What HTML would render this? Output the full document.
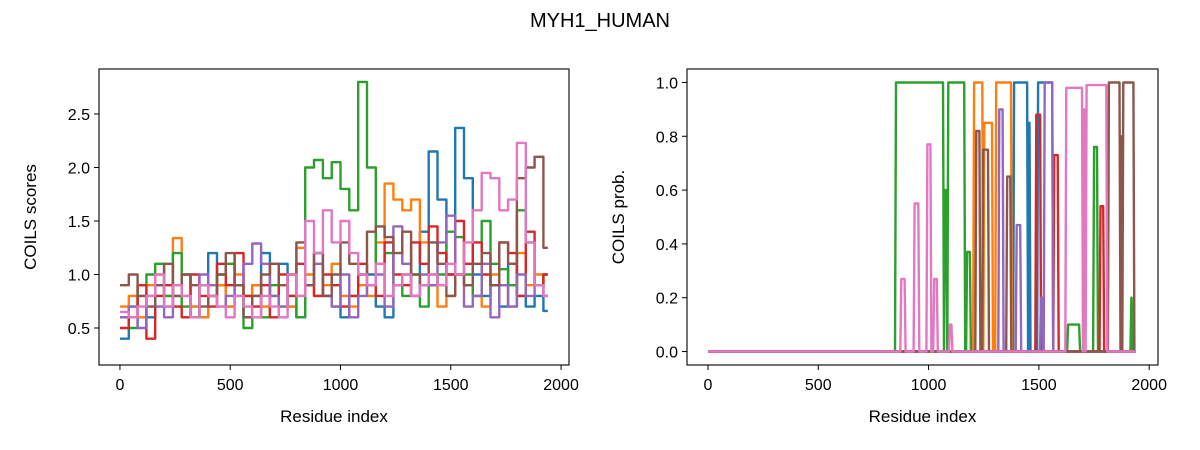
<!DOCTYPE html>
<html><head><meta charset="utf-8"><style>
body{margin:0;background:#fff;}
svg{display:block;font-family:"Liberation Sans","DejaVu Sans",sans-serif;}
</style></head><body>
<svg id="fig" width="1200" height="450" viewBox="0 0 1200 450">
<text x="600" y="27" text-anchor="middle" font-size="20">MYH1_HUMAN</text>
</svg>
<script>
const step = 40;
const blue = [0.4,0.7,0.8,0.6,0.9,0.7,0.8,1.0,0.7,0.6,1.2,0.9,0.7,0.8,0.6,0.9,1.2,0.8,1.1,0.7,0.6,0.9,1.2,0.8,0.7,0.6,0.8,1.0,1.0,0.7,0.6,0.9,1.0,0.8,1.4,2.15,1.7,1.0,2.37,1.9,1.0,0.8,0.9,0.7,1.1,0.8,0.7,0.8,0.66];
const orange = [0.7,0.8,0.6,0.9,1.0,0.8,1.34,1.0,0.7,0.6,0.8,0.9,0.7,1.0,0.8,0.9,0.7,1.1,0.9,0.7,1.25,1.0,0.8,0.9,1.1,0.8,0.7,0.9,0.8,1.3,1.85,1.7,1.6,1.7,1.3,1.0,0.7,0.8,1.0,0.9,0.8,0.7,1.0,0.9,0.7,1.2,0.9,1.0,0.8];
const green = [0.6,0.5,0.9,1.0,1.1,0.8,1.2,0.7,0.6,0.9,0.8,1.0,1.1,0.9,0.5,0.8,0.6,0.9,0.7,0.8,0.6,2.0,2.07,1.9,2.05,1.8,1.6,2.8,2.0,1.1,1.2,0.9,0.8,1.0,0.7,0.9,1.0,1.4,1.35,1.0,0.8,1.5,1.1,1.05,0.9,1.6,1.3,0.9,1.0];
const red = [0.5,0.6,0.9,0.4,0.8,0.9,0.7,0.6,1.0,0.8,0.7,1.1,0.9,1.2,0.8,0.7,0.9,0.6,1.0,0.8,1.1,0.9,0.8,1.0,0.9,0.7,0.8,1.1,0.9,0.8,1.3,1.0,0.9,1.3,1.1,1.45,1.2,1.0,1.5,1.1,1.3,1.0,0.9,1.3,1.2,0.8,1.4,0.9,1.0];
const purple = [0.6,0.7,0.5,0.8,0.7,0.6,0.9,0.8,0.6,1.0,0.9,0.7,0.8,0.9,1.1,1.29,1.1,0.8,0.7,1.0,0.8,0.9,1.1,0.8,0.7,1.0,0.6,0.8,0.9,1.0,0.7,1.45,1.1,0.8,1.0,0.9,1.3,1.55,1.0,0.7,0.8,1.1,0.6,0.9,0.7,1.0,0.8,0.9,0.8];
const brown = [0.9,1.0,0.8,0.7,0.9,1.1,0.8,1.0,0.9,0.7,0.8,1.0,1.2,0.9,0.6,0.8,1.0,1.1,0.9,1.0,1.3,0.9,1.2,0.8,1.0,1.3,1.1,1.0,1.4,1.45,1.35,1.2,1.4,1.0,0.9,1.3,1.1,0.8,1.0,0.9,1.1,1.2,0.9,1.3,1.1,1.9,2.0,2.1,1.25];
const pink = [0.65,0.6,0.7,0.8,1.0,0.7,0.9,0.8,0.6,0.9,0.8,0.7,0.6,0.8,0.7,0.6,0.8,0.7,0.6,1.0,0.8,1.5,1.2,1.6,1.3,1.5,1.2,1.0,0.9,1.1,0.8,0.9,1.0,0.8,0.9,1.0,0.9,1.1,1.0,1.3,1.6,1.95,1.9,1.6,1.7,2.23,1.3,0.9,0.8];
// right chart: [start, end, prob] plateaus, zero elsewhere
const pBlue = [[1383,1451,1.0],[1451,1462,0.85],[1492,1565,1.0]];
const pOrange = [[1202,1248,1.0],[1248,1292,0.85],[1302,1378,1.0]];
const pGreen = [[848,1070,1.0],[1070,1085,0.6],[1085,1166,1.0],[1170,1192,0.37],[1628,1687,0.1],[1746,1768,0.76],[1915,1925,0.2]];
const pRed = [[1484,1510,0.88],[1565,1590,0.73],[1775,1796,0.54]];
const pPurple = [[1316,1340,0.9],[1395,1420,0.47],[1505,1520,0.2],[1522,1565,1.0]];
const pBrown = [[1212,1235,0.82],[1243,1274,0.75],[1352,1375,0.65],[1813,1870,1.0],[1870,1878,0.8],[1878,1933,1.0]];
const pPink = [[872,896,0.27],[932,958,0.55],[990,1013,0.77],[1021,1042,0.27],[1092,1108,0.1],[1620,1700,0.98],[1700,1712,0.9],[1712,1810,0.99]];
const xTicks = [0,500,1000,1500,2000];
const leftYTicks = [0.5,1.0,1.5,2.0,2.5];
const rightYTicks = [0.0,0.2,0.4,0.6,0.8,1.0];
const colors = ['#1f77b4','#ff7f0e','#2ca02c','#d62728','#9467bd','#8c564b','#e377c2'];
const names = ['blue','orange','green','red','purple','brown','pink'];
const N = 1940;
const NS='http://www.w3.org/2000/svg';
const svg=document.getElementById('fig');
function mk(tag,attrs,parent){const e=document.createElementNS(NS,tag);for(const k in attrs)e.setAttribute(k,attrs[k]);(parent||svg).appendChild(e);return e;}
function axes(L,T,W,H,xMin,xMax,yMin,yMax,yTicks,yFmt,ylabel,prefix){
  const g=mk('g',{});
  
  
  const sx=v=>L+(v-xMin)/(xMax-xMin)*W, sy=v=>T+H-(v-yMin)/(yMax-yMin)*H;
  xTicks.forEach(t=>{const x=sx(t);mk('line',{x1:x,x2:x,y1:T+H,y2:T+H+5,stroke:'#000','stroke-width':1},g);
    const tx=mk('text',{x:x,y:T+H+25,'text-anchor':'middle','font-size':16},g);tx.textContent=t;
    
    });
  yTicks.forEach(t=>{const y=sy(t);mk('line',{x1:L-5,x2:L,y1:y,y2:y,stroke:'#000','stroke-width':1},g);
    const tx=mk('text',{x:L-9,y:y+6,'text-anchor':'end','font-size':16},g);tx.textContent=yFmt(t);
    
    });
  const xl=mk('text',{x:L+W/2,y:T+H+57,'text-anchor':'middle','font-size':17},g);xl.textContent='Residue index';
  
  
  const yl=mk('text',{x:0,y:0,'text-anchor':'middle','font-size':17,transform:`translate(${L-63},${T+H/2}) rotate(-90)`},g);yl.textContent=ylabel;
  
  
  return {sx,sy,g,L,T,W,H};
}
const A=axes(99,69,470,296,-95,2036,0.5-(365-328)/107,0.5+(328-69)/107,leftYTicks,v=>v.toFixed(1),'COILS scores','left');
const B=axes(687,69,471,296,-95,2040,-0.05,1.05,rightYTicks,v=>v.toFixed(1),'COILS prob.','right');
const leftSeries=[blue,orange,green,red,purple,brown,pink];
leftSeries.forEach((arr,i)=>{
  let d='';
  arr.forEach((v,j)=>{const x0=A.sx(j*step),x1=A.sx(Math.min((j+1)*step,N));const y=A.sy(v);
    d+=(j===0?'M':'L')+x0.toFixed(1)+','+y.toFixed(1)+'L'+x1.toFixed(1)+','+y.toFixed(1);});
  const p=mk('path',{d:d,fill:'none',stroke:colors[i],'stroke-width':2.4,'stroke-linejoin':'round'});
  
  
});
const rightSeries=[pBlue,pOrange,pGreen,pRed,pPurple,pBrown,pPink];
rightSeries.forEach((segs,i)=>{
  const y0=B.sy(0);let d='M'+B.sx(0).toFixed(1)+','+y0.toFixed(1);
  segs.forEach(s=>{const a=B.sx(s[0]),b=B.sx(s[1]),y=B.sy(s[2]);
    d+='L'+a.toFixed(1)+','+y0.toFixed(1)+'L'+(a+1).toFixed(1)+','+y.toFixed(1)+'L'+(b-1).toFixed(1)+','+y.toFixed(1)+'L'+b.toFixed(1)+','+y0.toFixed(1);});
  d+='L'+B.sx(N).toFixed(1)+','+y0.toFixed(1);
  const p=mk('path',{d:d,fill:'none',stroke:colors[i],'stroke-width':2.4,'stroke-linejoin':'round'});
  
  
});
[A,B].forEach((ax,k)=>{const r=mk('rect',{x:ax.L,y:ax.T,width:ax.W,height:ax.H,fill:'none',stroke:'#000','stroke-width':1.1});
  
  });
</script>
</body></html>
